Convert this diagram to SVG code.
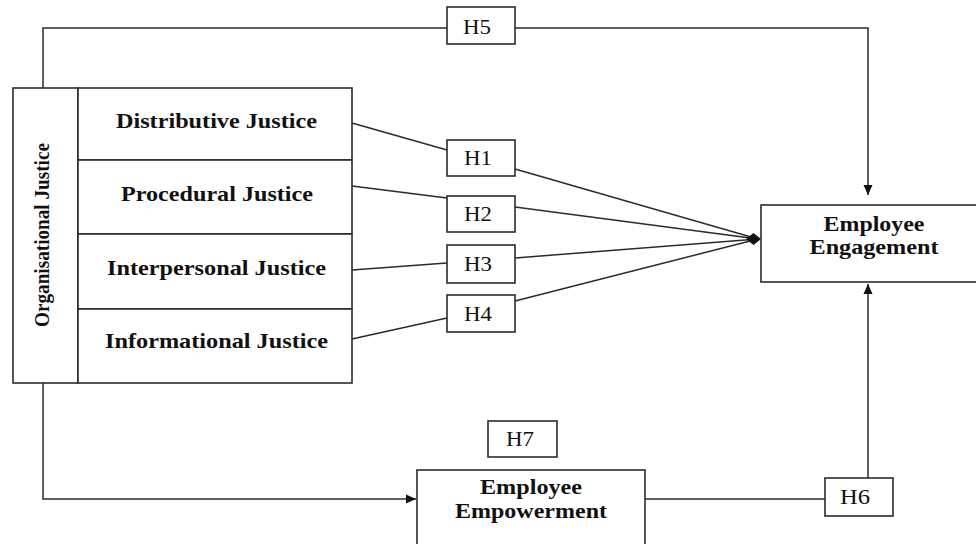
<svg xmlns="http://www.w3.org/2000/svg" width="976" height="544" viewBox="0 0 976 544">
<style>
.box{fill:#fff;stroke:#2b2b2b;stroke-width:1.6}
.ln{fill:none;stroke:#2b2b2b;stroke-width:1.5}
.t{font-family:"Liberation Serif","Times New Roman",serif;font-weight:bold;font-size:22px;fill:#111;text-anchor:middle}
.h{font-family:"Liberation Serif","Times New Roman",serif;font-size:21px;fill:#111;text-anchor:middle}
</style>
<defs>
<marker id="arr" viewBox="0 0 10 10" refX="10" refY="5" markerWidth="10" markerHeight="10" markerUnits="userSpaceOnUse" orient="auto">
<path d="M0,0.5 L10,5 L0,9.5 Z" fill="#111"/>
</marker>
</defs>
<rect width="976" height="544" fill="#fff"/>
<g id="connectors">
<path class="ln" d="M43,88 V28 H447"/>
<path class="ln" d="M515,28 H868 V195" marker-end="url(#arr)"/>
<line class="ln" x1="352" y1="123" x2="447" y2="150"/>
<line class="ln" x1="352" y1="186" x2="447" y2="198"/>
<line class="ln" x1="352" y1="270" x2="447" y2="263"/>
<line class="ln" x1="352" y1="339" x2="447" y2="318"/>
<line class="ln" x1="515" y1="169" x2="758" y2="239"/>
<line class="ln" x1="515" y1="207" x2="758" y2="239"/>
<line class="ln" x1="515" y1="258" x2="758" y2="239"/>
<line class="ln" x1="515" y1="301" x2="758" y2="239"/>
<polygon points="746,239 753.5,233 761,239 753.5,245" fill="#111"/>
<path class="ln" d="M43,383 V499 H416" marker-end="url(#arr)"/>
<line class="ln" x1="645" y1="499" x2="825" y2="499"/>
<line class="ln" x1="868" y1="478" x2="868" y2="284" marker-end="url(#arr)"/>
</g>
<g id="organisational-justice">
<rect class="box" x="13" y="88" width="65" height="295"/>
<text class="t" transform="translate(49,235) rotate(-90)" textLength="184" lengthAdjust="spacingAndGlyphs">Organisational Justice</text>
</g>
<g id="distributive-justice">
<rect class="box" x="78" y="88" width="274" height="72"/>
<text class="t" x="216.5" y="128" textLength="201" lengthAdjust="spacingAndGlyphs">Distributive Justice</text>
</g>
<g id="procedural-justice">
<rect class="box" x="78" y="160" width="274" height="74"/>
<text class="t" x="217" y="201" textLength="192" lengthAdjust="spacingAndGlyphs">Procedural Justice</text>
</g>
<g id="interpersonal-justice">
<rect class="box" x="78" y="234" width="274" height="75"/>
<text class="t" x="216.5" y="275" textLength="219" lengthAdjust="spacingAndGlyphs">Interpersonal Justice</text>
</g>
<g id="informational-justice">
<rect class="box" x="78" y="309" width="274" height="74"/>
<text class="t" x="216.5" y="348" textLength="223" lengthAdjust="spacingAndGlyphs">Informational Justice</text>
</g>
<g id="employee-engagement">
<rect class="box" x="761" y="205" width="230" height="77"/>
<text class="t" x="874" y="231" textLength="101" lengthAdjust="spacingAndGlyphs">Employee</text>
<text class="t" x="874" y="254" textLength="129" lengthAdjust="spacingAndGlyphs">Engagement</text>
</g>
<g id="employee-empowerment">
<rect class="box" x="417" y="470" width="228" height="85"/>
<text class="t" x="531" y="494" textLength="102" lengthAdjust="spacingAndGlyphs">Employee</text>
<text class="t" x="531" y="518" textLength="152" lengthAdjust="spacingAndGlyphs">Empowerment</text>
</g>
<g id="h1">
<rect class="box" x="447" y="140" width="68" height="36"/>
<text class="h" x="478" y="165" textLength="28" lengthAdjust="spacingAndGlyphs">H1</text>
</g>
<g id="h2">
<rect class="box" x="447" y="196" width="68" height="36"/>
<text class="h" x="478" y="221" textLength="28" lengthAdjust="spacingAndGlyphs">H2</text>
</g>
<g id="h3">
<rect class="box" x="447" y="245" width="68" height="38"/>
<text class="h" x="478" y="271" textLength="28" lengthAdjust="spacingAndGlyphs">H3</text>
</g>
<g id="h4">
<rect class="box" x="447" y="295" width="68" height="37"/>
<text class="h" x="478" y="321" textLength="28" lengthAdjust="spacingAndGlyphs">H4</text>
</g>
<g id="h5">
<rect class="box" x="447" y="7" width="68" height="37"/>
<text class="h" x="477" y="34" textLength="28" lengthAdjust="spacingAndGlyphs">H5</text>
</g>
<g id="h6">
<rect class="box" x="825" y="478" width="68" height="38"/>
<text class="h" x="855" y="504" textLength="30" lengthAdjust="spacingAndGlyphs">H6</text>
</g>
<g id="h7">
<rect class="box" x="488" y="421" width="69" height="36"/>
<text class="h" x="520" y="446" textLength="28" lengthAdjust="spacingAndGlyphs">H7</text>
</g>
</svg>
